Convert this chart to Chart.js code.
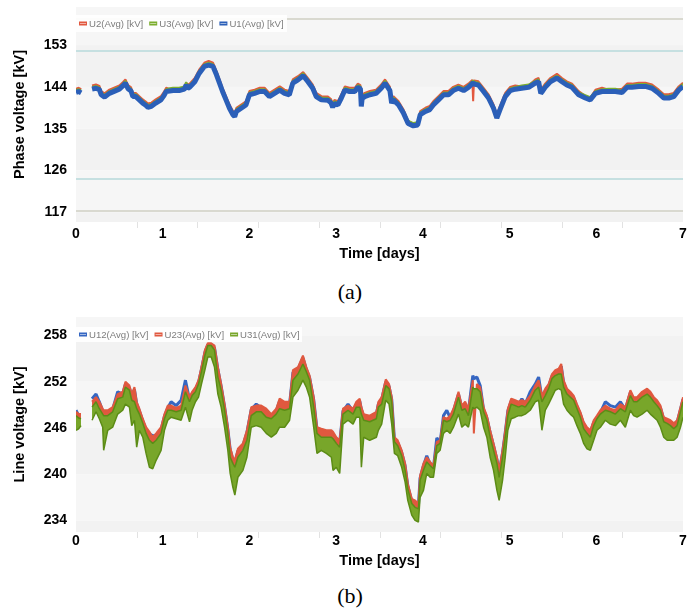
<!DOCTYPE html>
<html>
<head>
<meta charset="utf-8">
<script src="https://cdn.jsdelivr.net/npm/chart.js@4.4.1/dist/chart.umd.min.js"></script>
<style>
  html, body { margin: 0; padding: 0; background: #fff; }
  body { width: 700px; height: 613px; position: relative; overflow: hidden; }
  .panel { position: absolute; left: 0; width: 700px; height: 270px; }
  #wrapA { top: 0; }
  #wrapB { top: 310px; }
  .cap { position: absolute; left: 0; width: 700px; text-align: center;
         font-family: "Liberation Serif", "Times New Roman", serif; font-size: 22px; color: #000; line-height: 26px; }
</style>
</head>
<body>
<div class="panel" id="wrapA"><canvas id="chartA" width="700" height="270"></canvas></div>
<div class="cap" style="top:279px">(a)</div>
<div class="panel" id="wrapB"><canvas id="chartB" width="700" height="270"></canvas></div>
<div class="cap" style="top:583px">(b)</div>
<script>
// ---------- shared axis values ----------
const dayTicks = [0, 1, 2, 3, 4, 5, 6, 7];
const minorDays = [0.7, 1.4, 2.1, 2.8, 3.5, 4.2, 4.9, 5.6, 6.3];

// ---------- (a) phase voltages, kV ----------
const phaseTicks = [117, 126, 135, 144, 153];
const phaseLimits = [158.7, 151.8, 124.2, 117.3];
const phaseNames = ['U2(Avg) [kV]', 'U3(Avg) [kV]', 'U1(Avg) [kV]'];

const daysA = [
  0.00,0.03,0.06,0.12,0.185,0.23,0.27,0.29,0.33,0.385,
  0.46,0.50,0.54,0.57,0.60,0.635,0.655,0.69,0.73,0.77,
  0.80,0.83,0.87,0.92,0.98,1.01,1.04,1.08,1.12,1.19,
  1.25,1.27,1.29,1.31,1.37,1.42,1.48,1.53,1.58,1.62,
  1.655,1.69,1.73,1.77,1.81,1.83,1.85,1.905,1.96,2.00,
  2.06,2.12,2.175,2.23,2.29,2.35,2.405,2.46,2.50,2.56,
  2.62,2.675,2.73,2.77,2.83,2.905,2.94,2.96,2.98,3.02,
  3.06,3.10,3.155,3.215,3.25,3.28,3.29,3.30,3.33,3.39,
  3.46,3.52,3.564,3.62,3.64,3.66,3.72,3.775,3.83,3.89,
  3.94,3.97,4.03,4.08,4.12,4.18,4.24,4.295,4.35,4.41,
  4.47,4.525,4.57,4.58,4.59,4.64,4.70,4.757,4.815,4.853,
  4.89,4.95,5.007,5.065,5.14,5.22,5.296,5.335,5.36,5.373,
  5.41,5.47,5.546,5.604,5.66,5.72,5.797,5.874,5.93,5.99,
  6.066,6.143,6.22,6.297,6.355,6.41,6.49,6.566,6.643,6.72,
  6.78,6.836,6.893,6.95,7.00
];
const u1 = [
  142.8,143.0,142.7,null,143.5,143.7,143.4,142.3,141.8,142.6,
  143.2,143.5,144.2,144.8,143.6,143.1,141.9,141.9,141.2,140.5,
  140.1,139.6,139.8,140.5,141.2,142.0,143.0,143.1,143.2,143.2,
  143.5,144.4,143.7,143.9,145.1,146.9,148.4,148.7,148.4,146.6,
  144.8,143.0,141.2,139.4,138.0,137.6,138.7,139.4,140.1,142.3,
  142.6,143.0,143.0,141.9,142.6,143.3,142.6,142.3,144.8,145.5,
  146.4,145.1,143.7,141.9,141.2,141.1,140.6,139.6,140.4,140.1,
  141.6,143.3,143.0,143.0,143.9,143.6,139.8,141.5,141.9,142.3,
  142.6,143.7,144.8,143.2,140.5,141.2,140.1,138.4,136.1,135.6,
  135.8,138.0,138.7,139.1,140.1,141.2,142.3,142.3,143.2,143.7,
  143.2,143.9,144.7,144.9,144.6,144.4,143.0,141.6,139.4,137.3,
  139.1,141.9,143.2,143.5,143.7,143.9,144.8,145.1,142.6,142.9,
  143.9,145.1,145.9,145.1,144.4,143.9,142.3,141.6,141.2,142.6,
  143.0,143.0,143.0,142.8,143.9,143.9,144.1,144.1,143.7,142.6,
  141.6,141.6,141.9,143.3,144.1
];
const u3 = [
  143.3,143.5,143.2,null,144.0,144.2,143.9,142.8,142.3,143.1,
  143.7,144.0,144.7,145.3,144.1,143.6,142.4,142.4,141.7,141.0,
  140.6,140.1,140.3,141.0,141.7,142.5,143.5,143.7,143.8,143.8,
  144.1,145.0,144.2,144.4,145.6,147.4,148.9,149.2,148.9,147.1,
  145.3,143.5,141.7,139.9,138.5,138.1,139.2,139.9,140.6,142.8,
  143.1,143.5,143.5,142.4,143.1,143.8,143.1,142.8,145.3,146.0,
  146.9,145.6,144.2,142.4,141.7,141.6,141.1,140.1,140.9,140.6,
  142.1,143.8,143.5,143.5,144.4,144.1,140.3,142.0,142.4,142.8,
  143.1,144.2,145.3,143.7,141.0,141.7,140.6,138.9,136.7,136.2,
  136.4,138.5,139.2,139.6,140.6,141.7,142.8,142.8,143.7,144.2,
  143.7,144.4,145.2,145.4,145.1,144.9,143.5,142.1,139.9,137.8,
  139.6,142.4,143.7,144.0,144.3,144.5,145.3,145.6,143.1,143.4,
  144.4,145.6,146.4,145.6,144.9,144.4,142.8,142.2,141.8,143.1,
  143.5,143.6,143.6,143.3,144.4,144.4,144.6,144.6,144.2,143.1,
  142.1,142.1,142.4,143.8,144.6
];
const u2 = [
  143.6,143.8,143.5,null,144.3,144.5,144.2,143.1,142.6,143.4,
  144.0,144.3,145.0,145.6,144.4,143.9,142.7,142.7,142.0,141.3,
  140.9,140.4,140.6,141.3,142.0,142.8,143.8,143.5,143.6,143.6,
  143.9,144.9,144.5,144.7,145.9,147.7,149.2,149.6,149.2,147.4,
  145.6,143.8,142.0,140.2,138.8,138.4,139.5,140.2,140.9,143.1,
  143.4,143.8,143.8,142.7,143.4,144.1,143.4,143.1,145.6,146.3,
  147.2,145.9,144.5,142.7,142.0,141.9,141.4,140.4,141.2,140.9,
  142.4,144.1,143.8,143.8,144.7,144.4,140.6,142.3,142.7,143.1,
  143.4,144.5,145.6,144.0,141.3,142.0,140.9,139.2,136.6,136.1,
  136.3,138.8,139.5,139.9,140.9,142.0,143.1,143.1,144.0,144.5,
  144.0,144.7,145.5,140.9,145.4,145.2,143.8,142.4,140.2,138.1,
  139.9,142.7,144.0,144.3,144.1,144.3,145.6,145.9,143.4,143.7,
  144.7,145.9,146.8,145.9,145.2,144.7,143.1,142.0,141.6,143.4,
  143.8,143.4,143.4,143.6,144.7,144.7,144.9,144.9,144.5,143.4,
  142.4,142.4,142.7,144.1,144.9
];

// ---------- (b) line voltages, kV ----------
const lineTicks = [234, 240, 246, 252, 258];
const lineNames = ['U12(Avg) [kV]', 'U23(Avg) [kV]', 'U31(Avg) [kV]'];

const daysB = [
  0.000,0.031,0.058,0.12,0.185,0.231,0.269,0.308,0.319,0.366,
  0.423,0.481,0.539,0.570,0.616,0.643,0.674,0.700,0.731,0.770,
  0.808,0.847,0.885,0.924,0.981,1.020,1.058,1.097,1.155,1.212,
  1.262,1.309,1.339,1.378,1.413,1.447,1.486,1.520,1.559,1.597,
  1.636,1.674,1.713,1.751,1.778,1.809,1.832,1.867,1.925,1.971,
  2.021,2.079,2.136,2.194,2.252,2.309,2.348,2.406,2.463,2.502,
  2.560,2.617,2.656,2.694,2.741,2.779,2.829,2.887,2.945,2.964,
  3.002,3.041,3.079,3.137,3.195,3.233,3.272,3.291,3.318,3.387,
  3.464,3.487,3.525,3.572,3.610,3.641,3.672,3.710,3.756,3.795,
  3.826,3.872,3.910,3.949,3.968,4.007,4.045,4.084,4.122,4.161,
  4.199,4.238,4.276,4.315,4.353,4.411,4.449,4.488,4.526,4.576,
  4.588,4.623,4.661,4.700,4.738,4.776,4.815,4.854,4.880,4.919,
  4.950,4.980,5.019,5.065,5.104,5.142,5.181,5.238,5.296,5.335,
  5.373,5.412,5.450,5.489,5.527,5.566,5.596,5.623,5.662,5.700,
  5.739,5.777,5.816,5.854,5.893,5.931,5.970,6.008,6.047,6.104,
  6.162,6.220,6.278,6.335,6.393,6.431,6.470,6.528,6.586,6.624,
  6.663,6.701,6.740,6.778,6.817,6.855,6.894,6.932,6.971,7.000
];
const u12 = [
  248.3,247.6,247.6,null,249.8,250.4,249.4,248.2,248.0,248.0,
  248.4,250.7,250.4,251.7,251.2,250.1,251.0,249.1,248.2,246.9,
  245.8,245.2,245.0,245.0,245.8,247.5,248.6,249.4,248.9,249.6,
  252.2,249.7,250.4,251.0,251.9,253.6,255.8,256.8,256.8,256.4,
  253.6,251.4,248.8,245.8,243.2,241.9,241.5,243.0,243.7,245.4,
  248.4,249.1,248.6,248.2,247.5,248.2,249.5,249.1,249.1,253.2,
  253.6,255.1,253.6,252.5,249.7,245.8,245.6,245.4,245.4,245.2,
  244.5,244.1,248.2,249.1,248.2,249.1,249.5,248.4,247.5,247.3,
  247.8,249.1,249.7,252.0,251.4,249.7,244.5,244.1,242.8,241.1,
  238.5,236.5,236.3,235.9,239.5,241.1,242.4,241.3,240.8,244.7,
  244.1,247.6,248.3,247.3,248.2,250.4,248.6,249.1,248.2,252.8,
  252.4,252.6,251.5,248.4,247.3,245.4,243.7,241.9,240.2,242.8,
  245.4,248.2,249.5,249.3,249.1,249.8,249.1,250.7,251.7,252.6,
  249.9,250.8,251.4,252.7,253.2,253.4,254.0,251.9,250.8,250.4,
  249.9,248.8,247.8,246.5,245.8,245.4,246.7,247.3,248.0,249.4,
  248.9,248.7,249.4,248.4,250.6,249.7,249.7,250.4,250.8,250.4,
  249.7,249.3,248.6,247.1,246.9,246.7,246.3,246.7,248.4,249.7
];
const u23 = [
  248.1,247.8,247.8,null,249.4,250.0,249.4,248.5,248.3,248.3,
  248.7,250.4,250.7,252.0,251.5,250.4,251.3,249.4,248.5,247.2,
  246.1,245.5,244.8,245.3,246.1,247.8,248.9,248.9,248.6,248.9,
  251.5,250.0,250.7,251.3,252.2,253.9,256.1,257.0,257.0,256.7,
  253.9,251.7,249.1,246.1,243.5,242.2,241.8,243.3,244.0,245.7,
  248.7,248.9,248.9,248.5,247.8,248.5,249.8,249.4,249.4,253.5,
  253.9,255.4,253.9,252.8,250.0,246.1,245.9,245.7,245.7,245.5,
  244.8,244.4,248.5,248.9,248.5,249.4,249.8,248.7,247.8,247.6,
  248.1,249.4,250.0,252.3,251.7,250.0,244.8,244.4,243.1,241.4,
  238.8,236.8,236.6,236.2,239.8,241.4,242.2,241.6,241.1,244.2,
  244.4,247.4,247.2,247.6,248.5,250.7,248.9,249.4,248.5,252.2,
  245.3,251.7,251.3,248.7,247.6,245.7,244.0,242.2,240.5,243.1,
  245.7,248.5,249.8,249.6,249.4,249.6,249.4,250.2,251.5,252.2,
  250.2,251.1,251.7,253.0,253.5,253.7,254.3,252.2,251.1,250.7,
  250.2,249.1,248.1,246.8,246.1,245.7,247.0,247.6,248.3,248.9,
  248.5,248.3,249.1,248.7,250.9,250.0,250.0,250.7,251.1,250.7,
  250.0,249.6,248.9,247.4,247.2,247.0,246.6,247.0,248.7,250.0
];
// U31 is plotted as its high/low envelope within each reading interval
const u31High = [
  247.6,247.3,247.2,null,248.7,249.4,248.5,247.8,247.6,247.6,
  248.1,249.8,250.0,251.3,250.9,249.6,249.4,248.5,247.8,246.6,
  245.3,244.4,244.0,244.4,245.3,247.2,248.3,248.3,248.1,248.3,
  250.7,249.4,250.2,250.7,251.7,253.3,255.4,256.7,256.7,256.1,
  252.6,250.9,248.3,245.3,242.2,241.4,240.9,242.2,243.1,244.4,
  247.6,248.1,248.1,247.4,247.2,247.8,248.5,248.3,248.5,252.2,
  253.0,254.3,253.3,252.2,248.7,245.3,244.8,244.8,244.8,244.6,
  244.0,243.5,247.8,248.3,247.8,248.7,248.7,247.8,247.0,246.8,
  247.2,248.7,249.1,251.5,251.1,249.4,244.2,243.7,242.4,240.5,
  238.1,236.2,235.7,235.5,239.2,240.5,241.6,241.1,240.7,243.7,
  244.0,247.0,246.8,247.0,247.8,250.0,248.3,248.5,247.6,251.3,
  251.1,251.1,250.7,248.1,247.0,244.8,243.1,241.4,239.6,242.2,
  244.8,247.6,249.1,248.9,248.7,248.9,248.7,249.6,250.9,251.3,
  249.4,250.2,251.1,252.4,252.8,253.0,253.0,251.3,250.4,250.0,
  249.6,248.5,247.4,245.9,245.3,244.8,246.3,247.2,247.8,248.3,
  248.1,247.8,248.5,248.1,250.2,249.4,249.4,250.0,250.4,250.0,
  249.4,248.9,248.3,246.8,246.6,246.3,245.9,246.3,248.1,249.4
];
const u31Low = [
  245.7,245.9,246.3,null,247.0,248.1,247.2,246.1,243.1,245.7,
  246.1,247.8,248.3,249.1,248.7,246.3,247.0,243.5,245.7,244.8,
  242.7,240.9,240.7,241.8,243.1,245.7,247.0,247.4,247.2,247.0,
  248.7,246.8,248.3,249.4,250.0,251.7,253.5,255.2,255.2,253.9,
  250.4,248.7,246.1,243.1,240.1,238.3,237.3,239.6,240.5,242.2,
  246.1,246.3,246.1,245.3,244.8,245.3,246.1,246.1,247.0,250.0,
  250.9,252.2,251.3,250.0,246.1,242.7,243.1,242.7,242.2,240.5,
  240.9,240.1,246.5,247.0,246.5,247.4,247.4,240.9,244.8,244.4,
  244.8,245.7,246.5,249.6,249.1,246.5,242.7,242.4,240.9,239.0,
  236.6,234.7,234.0,233.8,237.0,237.9,240.1,239.6,239.6,242.7,
  243.1,245.3,245.7,245.3,246.1,247.8,246.1,246.5,246.1,248.7,
  248.5,248.7,248.3,246.1,244.8,242.2,240.5,237.9,236.6,239.2,
  242.2,245.7,247.2,247.4,247.6,247.6,247.8,248.3,249.4,249.6,
  245.7,248.3,249.1,250.0,250.9,251.1,250.9,249.1,248.3,247.8,
  247.4,246.3,245.3,244.0,243.3,243.1,244.4,245.7,246.1,247.0,
  246.5,246.3,247.0,246.1,248.3,247.6,247.4,247.8,248.3,247.8,
  247.4,247.0,246.1,244.8,244.4,244.4,244.4,244.8,246.1,247.4
];

// ---------- helpers ----------
const FONT = '"Liberation Sans", Arial, Helvetica, sans-serif';
const pts = (xs, ys) => xs.map((x, i) => ({ x, y: ys[i] }));

// alternating light bands behind the plot
const bandsPlugin = {
  id: 'plotBands',
  beforeDraw(chart) {
    const { ctx, chartArea: a, scales: { y } } = chart;
    const edges = [y.max, ...y.ticks.map(t => t.value).sort((p, q) => q - p), y.min];
    ctx.save();
    edges.slice(0, -1).forEach((v, i) => {
      const top = y.getPixelForValue(v);
      const bot = y.getPixelForValue(edges[i + 1]);
      ctx.fillStyle = i % 2 === 0 ? '#f6f6f6' : '#f2f2f2';
      ctx.fillRect(a.left, top, a.right - a.left, bot - top);
    });
    ctx.restore();
  }
};

// voltage limit lines
const limitsPlugin = {
  id: 'limitLines',
  beforeDatasetsDraw(chart, args, opts) {
    if (!opts.values) return;
    const { ctx, chartArea: a, scales: { y } } = chart;
    ctx.save();
    ctx.lineWidth = 2;
    opts.values.forEach((v, i) => {
      const py = Math.round(y.getPixelForValue(v));
      ctx.strokeStyle = opts.colors[i];
      ctx.beginPath(); ctx.moveTo(a.left, py); ctx.lineTo(a.right, py); ctx.stroke();
    });
    ctx.restore();
  }
};

// faint minor marks under the time axis
const minorPlugin = {
  id: 'minorMarks',
  afterDraw(chart) {
    const { ctx, chartArea: a, scales: { x } } = chart;
    ctx.save();
    ctx.strokeStyle = '#e2e2e2';
    ctx.lineWidth = 1;
    minorDays.forEach(d => {
      const px = Math.round(x.getPixelForValue(d)) + 0.5;
      ctx.beginPath(); ctx.moveTo(px, a.bottom); ctx.lineTo(px, a.bottom + 6); ctx.stroke();
    });
    ctx.restore();
  }
};

// legend drawn inside the plot, top-left
const insetLegend = {
  id: 'insetLegend',
  afterDatasetsDraw(chart, args, opts) {
    const { ctx, chartArea: a } = chart;
    ctx.save();
    ctx.fillStyle = 'rgba(255,255,255,0.9)';
    ctx.fillRect(a.left, a.top + opts.top, opts.width, opts.height);
    ctx.font = '9.6px ' + FONT;
    ctx.textBaseline = 'middle';
    const cy = a.top + opts.top + opts.height / 2;
    let x = a.left + 3;
    opts.items.forEach(it => {
      ctx.fillStyle = it.color;
      ctx.fillRect(x, cy - 2, 8, 4);
      ctx.fillStyle = 'rgba(255,255,255,0.55)';
      ctx.fillRect(x + 1, cy - 0.5, 6, 1);
      x += 10;
      ctx.fillStyle = '#7d7d7d';
      ctx.fillText(it.label, x, cy + 0.5);
      x += ctx.measureText(it.label).width + 6;
    });
    ctx.restore();
  }
};

function axes(yMin, yMax, yTicks, yTitle, tickPad, titlePad) {
  return {
    x: {
      type: 'linear', min: 0, max: 7,
      afterBuildTicks(s) { s.ticks = dayTicks.map(v => ({ value: v })); },
      afterFit(s) { s.height = 48; s.paddingLeft = 0; s.paddingRight = 0; },
      grid: { display: false, drawTicks: false },
      border: { display: false },
      ticks: { padding: tickPad, color: '#000', maxRotation: 0, autoSkip: false,
               font: { family: FONT, size: 14, weight: 'bold' } },
      title: { display: true, text: 'Time [days]', color: '#000',
               font: { family: FONT, size: 14.5, weight: 'bold' },
               padding: { top: 0, bottom: titlePad } }
    },
    y: {
      min: yMin, max: yMax,
      afterBuildTicks(s) { s.ticks = yTicks.map(v => ({ value: v })); },
      afterFit(s) { s.width = 76; s.paddingTop = 0; s.paddingBottom = 0; },
      grid: { display: false, drawTicks: false },
      border: { display: false },
      ticks: { padding: 9, color: '#000', font: { family: FONT, size: 14, weight: 'bold' } },
      title: { display: true, text: yTitle, color: '#000',
               font: { family: FONT, size: 14.5, weight: 'bold' },
               padding: { top: 11, bottom: 0 } }
    }
  };
}

const common = {
  responsive: false,
  animation: false,
  events: [],
  devicePixelRatio: 1,
  layout: { padding: { left: 0, right: 17, top: 7, bottom: 0 } },
  elements: { point: { radius: 0 }, line: { tension: 0, borderJoinStyle: 'bevel' } }
};

// ---------- chart (a) ----------
const colA = { u2: '#e2583f', u3: '#7cae2e', u1: '#2b5fb8' };
new Chart(document.getElementById('chartA'), {
  type: 'line',
  data: {
    datasets: [
      { label: phaseNames[0], data: pts(daysA, u2), borderColor: colA.u2, borderWidth: 2, order: 2, spanGaps: false },
      { label: phaseNames[1], data: pts(daysA, u3), borderColor: colA.u3, borderWidth: 2, order: 1, spanGaps: false },
      { label: phaseNames[2], data: pts(daysA, u1), borderColor: colA.u1, borderWidth: 5, order: 0, spanGaps: false }
    ]
  },
  options: Object.assign({}, common, {
    scales: axes(114.9, 161.2, phaseTicks, 'Phase voltage [kV]', 4, 7),
    plugins: {
      legend: { display: false },
      tooltip: { enabled: false },
      limitLines: { values: phaseLimits, colors: ['#d9d9d0', '#c6e0e1', '#c6e0e1', '#d9d9d0'] },
      insetLegend: { top: 8, height: 17, width: 211,
        items: [ { label: phaseNames[0], color: colA.u2 },
                 { label: phaseNames[1], color: colA.u3 },
                 { label: phaseNames[2], color: colA.u1 } ] }
    }
  }),
  plugins: [bandsPlugin, limitsPlugin, minorPlugin, insetLegend]
});

// ---------- chart (b) ----------
const colB = { u12: '#3566c2', u23: '#e0583f', u31: '#78a62a', u31edge: '#5c8c16' };
new Chart(document.getElementById('chartB'), {
  type: 'line',
  data: {
    datasets: [
      { label: lineNames[0], data: pts(daysB, u12), borderColor: colB.u12, borderWidth: 3, order: 3, spanGaps: false },
      { label: lineNames[1], data: pts(daysB, u23), borderColor: colB.u23, borderWidth: 2, order: 2, spanGaps: false,
        fill: '+1', backgroundColor: colB.u23 },
      { label: lineNames[2], data: pts(daysB, u31High), borderColor: colB.u31edge, borderWidth: 1.5, order: 1, spanGaps: false,
        fill: '+1', backgroundColor: colB.u31 },
      { label: lineNames[2] + ' low', data: pts(daysB, u31Low), borderColor: colB.u31edge, borderWidth: 1.5, order: 0, spanGaps: false }
    ]
  },
  options: Object.assign({}, common, {
    scales: axes(232.5, 260.4, lineTicks, 'Line voltage [kV]', 1, 10),
    plugins: {
      legend: { display: false },
      tooltip: { enabled: false },
      filler: { propagate: false },
      insetLegend: { top: 10, height: 15, width: 226,
        items: [ { label: lineNames[0], color: colB.u12 },
                 { label: lineNames[1], color: colB.u23 },
                 { label: lineNames[2], color: colB.u31 } ] }
    }
  }),
  plugins: [bandsPlugin, minorPlugin, insetLegend]
});
</script>
</body>
</html>
